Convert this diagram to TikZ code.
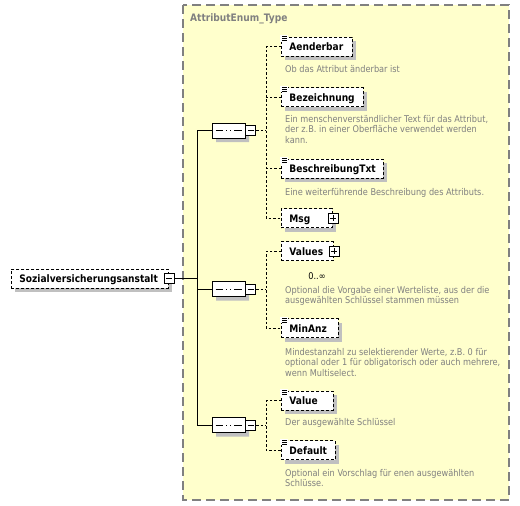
\documentclass[tikz,border=0pt]{standalone}
\usepackage{fontspec}
\setmainfont{DejaVu Sans}[FakeStretch=0.88]
\usetikzlibrary{shapes.misc,shadows,backgrounds}
\definecolor{bgyellow}{HTML}{FFFFCC}
\definecolor{framegray}{HTML}{808080}
\definecolor{desctext}{HTML}{808080}
\definecolor{shade}{HTML}{C0C0C0}
\newcommand\docmark[1]{%
  \fill[white] ([shift={(-0.6pt,1.2pt)}]#1.north west) rectangle ([shift={(6.8pt,-5.2pt)}]#1.north west);
  \foreach \dy in {0,2,4} \draw[line width=0.7pt] ([shift={(1pt,-\dy pt)}]#1.north west) -- ([shift={(6pt,-\dy pt)}]#1.north west);}
\begin{document}
\begin{tikzpicture}[x=1pt,y=-1pt,
  elembase/.style={draw, dash pattern=on 3pt off 2pt, line width=0.9pt, fill=white, anchor=west,
    inner xsep=8pt, inner ysep=0pt, minimum height=19pt, align=left, text height=9pt, text depth=1pt,
    font=\fontsize{10.3}{12}\selectfont\bfseries},
  elem/.style={elembase, drop shadow={shadow xshift=4pt, shadow yshift=-4pt, fill=shade, opacity=1}},
  desc/.style={anchor=base west, inner sep=0pt, align=left, text=desctext, font=\fontsize{9.3}{10.5}\selectfont},
  pmbox/.style={draw, solid, line width=0.8pt, fill=white, minimum size=10pt, inner sep=0pt},
  minus/.style={pmbox, path picture={\draw[line width=0.8pt] ([xshift=2pt]path picture bounding box.west) -- ([xshift=-2pt]path picture bounding box.east);}},
  plus/.style={pmbox, path picture={\draw[line width=0.8pt] ([xshift=2pt]path picture bounding box.west) -- ([xshift=-2pt]path picture bounding box.east);
     \draw[line width=0.8pt] ([yshift=-2pt]path picture bounding box.north) -- ([yshift=2pt]path picture bounding box.south);}},
  seq/.style={chamfered rectangle, chamfered rectangle xsep=4pt, chamfered rectangle ysep=4pt, draw, line width=0.9pt,
    fill=white, minimum width=33pt, minimum height=15pt, inner sep=0pt,
    drop shadow={shadow xshift=4pt, shadow yshift=-4pt, fill=shade, opacity=1},
    path picture={\draw[line width=0.8pt] ([xshift=-13pt]path picture bounding box.center) -- ([xshift=13pt]path picture bounding box.center);
      \foreach \dx in {-3.8,0,3.8} \fill ([xshift=\dx pt]path picture bounding box.center) +(-1.5pt,-1.5pt) rectangle +(1.5pt,1.5pt);}},
  conn/.style={line width=0.9pt},
  dconn/.style={line width=0.8pt, dash pattern=on 2.5pt off 2pt}]
\useasboundingbox (0,0) rectangle (520,506);
% type frame
\draw[fill=bgyellow, draw=framegray, line width=1.2pt, dash pattern=on 9pt off 5pt] (183,5) rectangle (509,500);
\node[anchor=base west, inner sep=0pt, text=framegray, font=\fontsize{10.3}{12}\selectfont\bfseries] (title) at (190,21) {AttributEnum\_Type};
% root
\node[elem, text width=141pt] (root) at (11,278.5) {Sozialversicherungsanstalt};
\node[minus] (rootpm) at (root.east) {};
% sequences
\node[seq] (seqA) at (228.5,130.5) {};
\node[minus, anchor=west] (seqApm) at (seqA.east) {};
\node[seq] (seqB) at (228.5,289) {};
\node[minus, anchor=west] (seqBpm) at (seqB.east) {};
\node[seq] (seqC) at (228.5,425) {};
\node[minus, anchor=west] (seqCpm) at (seqC.east) {};
\coordinate (trunk) at (197,279);
\draw[conn] (rootpm.east) -- (rootpm.east -| trunk);
\draw[conn] (seqA.west) -- (seqA.west -| trunk) -- (seqC.west -| trunk) -- (seqC.west);
\draw[conn] (seqB.west) -- (seqB.west -| trunk);
% group 1
\node[elem, text width=55pt] (aend) at (281,46.5) {Aenderbar};
\docmark{aend}
\node[desc] (aenddesc) at (285,72) {Ob das Attribut änderbar ist};
\node[elem, text width=66pt] (bez) at (281,97) {Bezeichnung};
\docmark{bez}
\node[desc] (bezdesc) at (285,143) {Ein menschenverständlicher Text für das Attribut,\\der z.B. in einer Oberfläche verwendet werden\\kann.};
\node[elem, text width=86pt] (besch) at (281,168.5) {BeschreibungTxt};
\docmark{besch}
\node[desc] (beschdesc) at (285,195) {Eine weiterführende Beschreibung des Attributs.};
\node[elem, text width=35pt] (msg) at (281,218) {Msg};
\node[plus] (msgpm) at (msg.east) {};
\coordinate (busA) at (266,130.5);
\draw[dconn] (seqApm.east) -- (busA);
\draw[dconn] (aend.west) -- (aend.west -| busA) -- (msg.west -| busA) -- (msg.west);
\draw[dconn] (bez.west) -- (bez.west -| busA);
\draw[dconn] (besch.west) -- (besch.west -| busA);
% group 2
\node[elembase, text width=36pt] (values) at (281,251) {Values};
\begin{scope}[on background layer]
  \fill[shade] ([shift={(7pt,-6pt)}]values.north west) rectangle ([shift={(7pt,-6pt)}]values.south east);
  \draw[fill=white, line width=0.9pt, dash pattern=on 3pt off 2pt] ([shift={(3pt,-2pt)}]values.north west) rectangle ([shift={(3pt,-2pt)}]values.south east);
\end{scope}
\node[plus] (valuespm) at (values.east) {};
\node[anchor=base, inner sep=0pt, font=\fontsize{9.3}{11}\selectfont] (valuesocc) at (317,279) {0..∞};
\node[desc] (valuesdesc) at (285,303.5) {Optional die Vorgabe einer Werteliste, aus der die\\ausgewählten Schlüssel stammen müssen};
\node[elem, text width=41pt] (minanz) at (281,328) {MinAnz};
\docmark{minanz}
\node[desc] (minanzdesc) at (285,376) {Mindestanzahl zu selektierender Werte, z.B. 0 für\\optional oder 1 für obligatorisch oder auch mehrere,\\wenn Multiselect.};
\coordinate (busB) at (266,289);
\draw[dconn] (seqBpm.east) -- (busB);
\draw[dconn] (values.west) -- (values.west -| busB) -- (minanz.west -| busB) -- (minanz.west);
% group 3
\node[elem, text width=36pt] (value) at (281,400.5) {Value};
\docmark{value}
\node[desc] (valuedesc) at (285,425) {Der ausgewählte Schlüssel};
\node[elem, text width=38pt] (default) at (281,450) {Default};
\docmark{default}
\node[desc] (defaultdesc) at (285,486.5) {Optional ein Vorschlag für enen ausgewählten\\Schlüsse.};
\coordinate (busC) at (266,425);
\draw[dconn] (seqCpm.east) -- (busC);
\draw[dconn] (value.west) -- (value.west -| busC) -- (default.west -| busC) -- (default.west);
\end{tikzpicture}
\end{document}
